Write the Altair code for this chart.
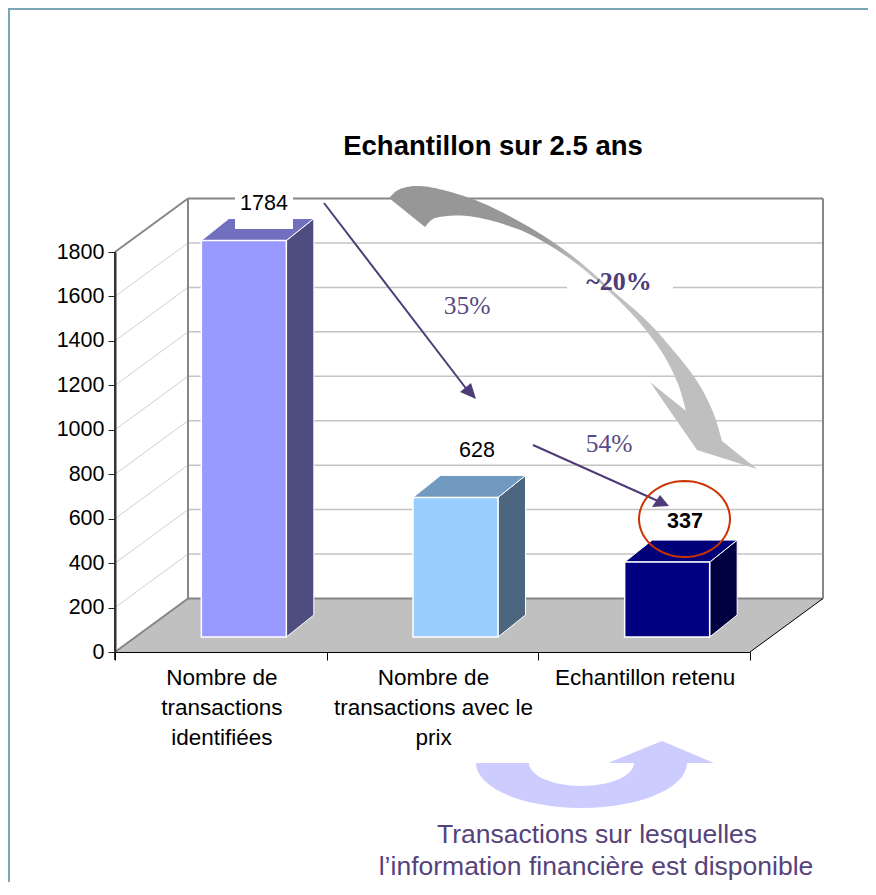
import math
import altair as alt
import pandas as pd

# ---- chart values ----
categories = ["Nombre de\ntransactions\nidentifiées",
              "Nombre de\ntransactions avec le\nprix",
              "Echantillon retenu"]
values = [1784, 628, 337]
front_colors = ["#9999FF", "#99CCFF", "#000080"]
side_colors = ["#4D4D80", "#4D6680", "#000040"]
top_colors = ["#7070BF", "#7299BF", "#000078"]
y_ticks = [0, 200, 400, 600, 800, 1000, 1200, 1400, 1600, 1800]
x_ticks = [0, 1, 2, 3]
label_lift_px = [31, 40, 34]

# ---- geometry of the fake 3D frame, in page pixels ----
W, H = 860, 874
M = 8
X0, Y0 = 115, 652           # page position of the origin
PLOT_W, PLOT_H = 635, 400   # the front plane of the 3D frame
UX, UY = PLOT_W / 3, PLOT_H / 1800
TOP = Y0 - PLOT_H
WALL_DX, WALL_DY = 73, 53.5
BAR_W, BAR_SHIFT_X, BAR_LIFT, BAR_DX, BAR_DY = 85, 23, 15, 27.5, 22


def dx(px):
    return px / UX


def dy(px):
    return px / UY


def px_x(px):
    return (px - X0) / UX


def px_y(py):
    return (Y0 - py) / UY


xs = alt.Scale(domain=[0, 3], nice=False, zero=False)
ys = alt.Scale(domain=[0, 1800], nice=False, zero=False)


def X(f="x", **kw):
    return alt.X(f, type="quantitative", scale=xs, **kw)


def Y(f="y", **kw):
    return alt.Y(f, type="quantitative", scale=ys, **kw)


def rules(rows, color, width):
    df = pd.DataFrame(rows, columns=["x", "y", "x2", "y2"])
    return alt.Chart(df).mark_rule(color=color, strokeWidth=width).encode(
        x=X(), y=Y(), x2="x2:Q", y2="y2:Q")


def texts(rows, font, size, color, weight="normal", **kw):
    df = pd.DataFrame(rows, columns=["x", "y", "t"])
    return alt.Chart(df).mark_text(font=font, fontSize=size, color=color, fontWeight=weight,
                                   align="center", baseline="alphabetic", **kw).encode(
        x=X(), y=Y(), text="t:N")


def box(x1, y1, x2, y2, color="white"):
    df = pd.DataFrame([dict(x=px_x(x1), x2=px_x(x2), y=px_y(y1), y2=px_y(y2))])
    return alt.Chart(df).mark_rect(color=color).encode(x=X(), x2="x2:Q", y=Y(), y2="y2:Q")


def shape(points, **mark):
    data = alt.InlineData(
        values={"type": "FeatureCollection", "features": [{
            "type": "Feature", "properties": {},
            "geometry": {"type": "Polygon", "coordinates": [points + [points[0]]]}}]},
        format=alt.DataFormat(type="json", property="features"))
    return alt.Chart(data).mark_geoshape(clip=False, **mark).project(
        type="identity", scale=1, translate=[-X0, -TOP])


def smooth(pts, steps=8):
    """Catmull-Rom through an outline edge, so that curved arrows have no corners."""
    out = []
    p = [pts[0]] + pts + [pts[-1]]
    for i in range(1, len(p) - 2):
        for k in range(steps):
            t = k / steps
            q = [0.5 * (2 * p[i][c] + (p[i + 1][c] - p[i - 1][c]) * t
                        + (2 * p[i - 1][c] - 5 * p[i][c] + 4 * p[i + 1][c] - p[i + 2][c]) * t * t
                        + (3 * p[i][c] - p[i - 1][c] - 3 * p[i + 1][c] + p[i + 2][c]) * t ** 3)
                 for c in (0, 1)]
            out.append(q)
    out.append(pts[-1])
    return out


# ---- walls, grid, floor ----
wd, wv = dx(WALL_DX), dy(WALL_DY)
n = len(categories)

side_grid = rules([(0, v, wd, v + wv) for v in y_ticks[1:-1]], "#D0D0D0", 1).encode(
    x=X(axis=alt.Axis(values=x_ticks, labels=False, title=None, grid=False, domain=True,
                      domainColor="#000000", domainWidth=1,
                      tickColor="#000000", tickSize=8, tickWidth=1, orient="bottom", zindex=1)),
    y=Y(axis=alt.Axis(values=y_ticks, title=None, grid=False, domain=True, orient="left", format="d",
                      domainColor="#333333", domainWidth=2,
                      tickColor="#222222", tickSize=7, tickWidth=1, labelFont="Liberation Sans",
                      labelFontSize=21.5, labelColor="#000000", labelPadding=4, zindex=1)))

back_grid = rules([(wd, v + wv, n + wd, v + wv) for v in y_ticks[1:-1]], "#C4C4C4", 1.5)

floor_df = pd.DataFrame({
    "x": [0, wd, n, n + wd],
    "y": [0, wv, wv, wv],
    "y2": [0, 0, 0, wv]})
floor = alt.Chart(floor_df).mark_area(color="#C0C0C0").encode(x=X(), y=Y(), y2="y2:Q")

wall_lines = rules([
    (wd, 0 + wv, wd, 1800 + wv),
    (wd, 1800 + wv, n + wd, 1800 + wv),
    (n + wd, 0 + wv, n + wd, 1800 + wv),
    (wd, 0 + wv, n + wd, 0 + wv),
    (0, 1800, wd, 1800 + wv),
    (0, 0, wd, wv)], "#868686", 2)

front_lines = rules([(n, 0, n + wd, wv)], "#000000", 1)

# ---- bars ----
fr, sd, tp = [], [], []
bottom = dy(BAR_LIFT)
for i, v in enumerate(values):
    x1 = i + 0.5 + dx(BAR_SHIFT_X) - dx(BAR_W / 2)
    x2 = x1 + dx(BAR_W)
    d, h = dx(BAR_DX), dy(BAR_DY)
    t = bottom + v
    fr.append(dict(x=x1, x2=x2, y=bottom, y2=t, c=front_colors[i]))
    sd += [dict(x=x2, y=t, y2=bottom, c=side_colors[i]),
           dict(x=x2 + d, y=t + h, y2=bottom + h, c=side_colors[i])]
    tp += [dict(x=x1, y=t, y2=t, c=top_colors[i]),
           dict(x=x1 + d, y=t + h, y2=t, c=top_colors[i]),
           dict(x=x2, y=t + h, y2=t, c=top_colors[i]),
           dict(x=x2 + d, y=t + h, y2=t + h, c=top_colors[i])]

side = alt.Chart(pd.DataFrame(sd)).mark_area(stroke="white", strokeWidth=1).encode(
    x=X(), y=Y(), y2="y2:Q", fill=alt.Fill("c:N", scale=None))
top = alt.Chart(pd.DataFrame(tp)).mark_area(stroke="white", strokeWidth=1).encode(
    x=X(), y=Y(), y2="y2:Q", fill=alt.Fill("c:N", scale=None))
front = alt.Chart(pd.DataFrame(fr)).mark_rect(stroke="white", strokeWidth=1.5).encode(
    x=X(), x2="x2:Q", y=Y(), y2="y2:Q", fill=alt.Fill("c:N", scale=None))

# ---- annotation shapes, outlines in page pixels ----
grey_outer = [[389, 198], [400, 189], [420, 186], [447, 191], [480, 202], [513, 218], [547, 238],
              [580, 262], [613, 291], [647, 321], [673, 350], [697, 381], [713, 412], [722, 441]]
grey_inner = [[686, 411], [678, 384], [663, 354], [640, 323], [613, 295], [587, 272], [560, 252],
              [527, 233], [493, 221], [467, 216], [447, 216], [433, 219], [425, 227]]
grey_arrow = smooth(grey_outer) + [[757, 469], [697, 450], [650, 382]] + smooth(grey_inner)
blue_outer = [[581.5 + 105.5 * math.cos(math.radians(a)), 763 + 45 * math.sin(math.radians(a))]
              for a in range(180, -1, -6)]
blue_inner = [[581.5 + 52.5 * math.cos(math.radians(a)), 763 + 23 * math.sin(math.radians(a))]
              for a in range(0, 181, 6)]
blue_arrow = blue_outer[:-1] + [[687, 763], [714, 763], [662, 741], [608, 763], [634, 763]] + blue_inner[1:]
ellipse = [[684.5 + 45.5 * math.cos(math.radians(a)), 519 + 38 * math.sin(math.radians(a))]
           for a in range(0, 360, 6)]
head_a = [[476, 399], [460, 392], [471, 383]]
head_b = [[669, 506], [652, 507], [660, 495]]

grey_fill = alt.Gradient(gradient="linear", x1=0, y1=0, x2=1, y2=0.35, stops=[
    alt.GradientStop(offset=0, color="#969696"),
    alt.GradientStop(offset=0.42, color="#989898"),
    alt.GradientStop(offset=0.56, color="#BFBFBF"),
    alt.GradientStop(offset=1, color="#BFBFBF")])

PURPLE = "#4F3B78"
arrow_lines = rules([
    (px_x(324), px_y(203), px_x(468), px_y(391)),
    (px_x(533), px_y(445), px_x(658), px_y(501))], PURPLE, 2)

# ---- frame ----
frame_df = pd.DataFrame([{"a": 0}])
frame = alt.Chart(frame_df).mark_rule(color="#7AA5B5", strokeWidth=2).encode(
    x=alt.value(M - X0 + 1), y=alt.value(M - TOP), y2=alt.value(M + H - TOP))
frame2 = alt.Chart(frame_df).mark_rule(color="#7AA5B5", strokeWidth=2).encode(
    x=alt.value(M - X0), x2=alt.value(M + W - X0), y=alt.value(M - TOP + 1))

# ---- text ----
SANS, SERIF = "Liberation Sans", "Liberation Serif"
cat_text = texts([(i + 0.5 + dx(1), px_y(685), c) for i, c in enumerate(categories)],
                 SANS, 22.5, "#000000", lineBreak="\n", lineHeight=30)
title = texts([(px_x(493), px_y(155), "Echantillon sur 2.5 ans")], SANS, 27.5, "#000000", "bold")
bar_tops = [bottom + v + dy(l) for v, l in zip(values, label_lift_px)]
lab_plain = texts([(px_x(264), bar_tops[0], str(values[0])), (px_x(477), bar_tops[1], str(values[1]))],
                  SANS, 21.5, "#000000")
lab_bold = texts([(px_x(685), bar_tops[2], str(values[2]))], SANS, 21.5, "#000000", "bold")
pct = texts([(px_x(467), px_y(314), "35%"), (px_x(609), px_y(452), "54%")], SERIF, 25.5, "#5A4A85")
pct_b = texts([(px_x(619), px_y(290), "~20%")], SERIF, 26, PURPLE, "bold")
foot = texts([(px_x(597), px_y(843), "Transactions sur lesquelles"),
              (px_x(596), px_y(875), "l’information financière est disponible")],
             SANS, 26.5, "#55437A")

chart = alt.layer(
    side_grid, back_grid, floor, wall_lines, front_lines,
    side, top, front,
    box(235, 186, 293, 229), box(567, 272, 673, 300),
    shape(grey_arrow, fill=grey_fill, stroke="transparent", strokeWidth=0),
    shape(blue_arrow, fill="#CCCCFF", stroke="transparent", strokeWidth=0),
    arrow_lines,
    shape(head_a, fill=PURPLE, stroke="transparent", strokeWidth=0),
    shape(head_b, fill=PURPLE, stroke="transparent", strokeWidth=0),
    shape(ellipse, fill="transparent", stroke="#CC3300", strokeWidth=2),
    box(114, 252, 116, 660, color="#333333"),
    cat_text, title, lab_plain, lab_bold, pct, pct_b, foot, frame, frame2,
).properties(
    width=PLOT_W, height=PLOT_H, background="white",
    padding=alt.Padding(left=X0 - M, top=TOP - M, right=M + W - X0 - PLOT_W, bottom=M + H - TOP - PLOT_H),
    autosize=alt.AutoSizeParams(type="none"),
).configure_view(stroke=None)

chart.save("out.html", embed_options={"renderer": "svg", "actions": False})
